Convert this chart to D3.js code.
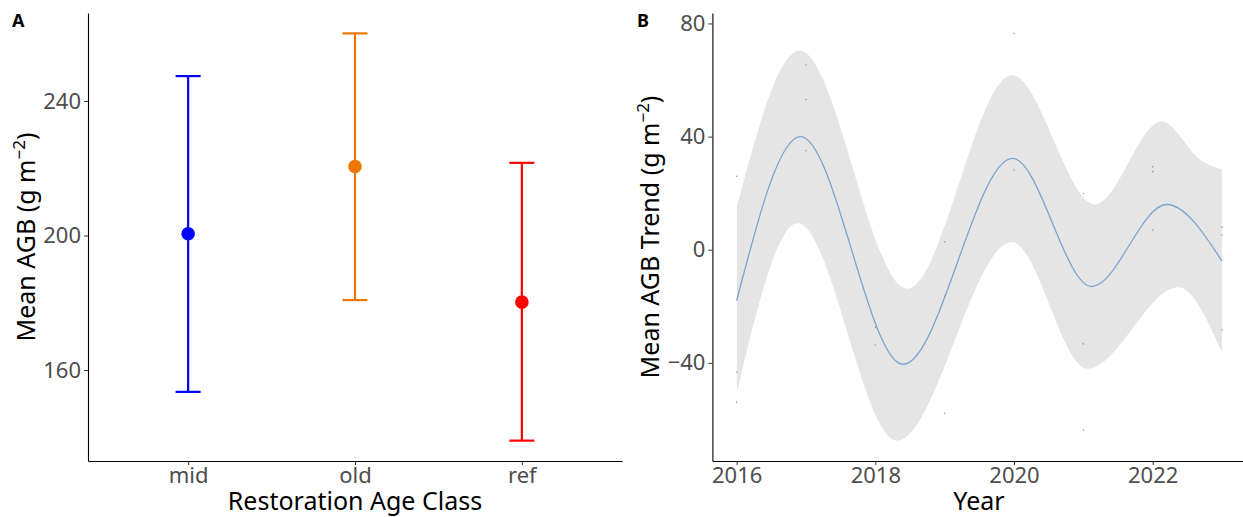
<!DOCTYPE html>
<html>
<head>
<meta charset="utf-8">
<script src="https://cdn.jsdelivr.net/npm/d3@7"></script>
<style>
  html, body { margin: 0; padding: 0; background: #fff; }
  svg { display: block; font-family: "Noto Sans", "Open Sans", sans-serif; }
  .tick text { fill: #4D4D4D; }
  .tick line { stroke: #333; }
</style>
</head>
<body>
<svg id="chart" width="1243" height="517"></svg>
<script>
// ---- Panel A: mean AGB by restoration age class ----
const ageClasses = ["mid", "old", "ref"];
const agbMean  = [200.5, 220.5, 180.2];
const agbLower = [153.5, 180.8, 139.0];
const agbUpper = [247.4, 260.1, 221.6];
const classColors = ["#0000FF", "#EE7600", "#FF0000"];
const agbTicks = [160, 200, 240];

// ---- Panel B: AGB trend through time ----
const obsYears  = [2016, 2016, 2016, 2017, 2017, 2017, 2018, 2018,
                   2019, 2019, 2019, 2020, 2020, 2021, 2021, 2021,
                   2022, 2022, 2022, 2023, 2023, 2023];
const obsTrend  = [26.0, -43.3, -53.9, 65.3, 53.1, 35.0, -27.4, -33.7,
                   2.8, -16.4, -57.8, 76.5, 28.2, 19.9, -33.3, -63.7,
                   29.3, 27.6, 7.0, 8.0, 5.2, -28.4];
// smoothed fit and its confidence band, read at turning points
const fitYears   = [2016, 2016.92, 2018.40, 2019.98, 2021.12, 2022.20, 2023];
const fitTrend   = [-18.0, 40.0, -40.5, 32.3, -13.0, 16.0, -4.0];
const upperYears = [2016, 2016.91, 2018.46, 2019.97, 2021.17, 2022.13, 2022.70, 2023];
const upperTrend = [15.0, 70.4, -13.8, 61.7, 16.0, 45.3, 31.5, 28.4];
const lowerYears = [2016, 2016.88, 2018.31, 2019.97, 2021.06, 2022.37, 2023];
const lowerTrend = [-50.6, 9.4, -67.5, 2.7, -42.1, -13.3, -36.3];
const yearTicks  = [2016, 2018, 2020, 2022];
const trendTicks = [-40, 0, 40, 80];

const svg = d3.select("#chart");
const tickFont = 22, titleFont = 25;

function expand(lo, hi, f) { const d = (hi - lo) * f; return [lo - d, hi + d]; }

function yTitle(g, x, yMid, label) {
  const t = g.append("text")
    .attr("transform", `translate(${x},${yMid}) rotate(-90)`)
    .attr("text-anchor", "middle")
    .attr("font-size", titleFont)
    .attr("fill", "#000");
  t.append("tspan").text(label + " (g m");
  t.append("tspan").text("\u22122").attr("font-size", titleFont * 0.68).attr("dy", -10);
  t.append("tspan").text(")").attr("dy", 10);
}

function styleAxis(sel) {
  sel.select(".domain").attr("stroke", "#000").attr("stroke-width", 1.1);
  sel.selectAll(".tick line").attr("stroke", "#333").attr("stroke-width", 1);
  sel.selectAll(".tick text").attr("font-size", tickFont).attr("font-family", "Noto Sans").attr("fill", "#4D4D4D");
}

// ================= Panel A =================
{
  const L = 88, R = 622, T = 13, B = 461;
  const x = d3.scalePoint().domain(ageClasses).range([L, R]).padding(0.6);
  const step = x.step();
  const yDom = expand(d3.min(agbLower), d3.max(agbUpper), 0.05);
  const y = d3.scaleLinear().domain(yDom).range([B, T]);
  const g = svg.append("g");

  const rows = ageClasses.map((c, i) => ({ c, m: agbMean[i], lo: agbLower[i], hi: agbUpper[i], col: classColors[i] }));
  const capHalf = step * 0.075;

  const eb = g.selectAll(".eb").data(rows).join("g");
  eb.append("line")
    .attr("x1", d => x(d.c)).attr("x2", d => x(d.c))
    .attr("y1", d => y(d.lo)).attr("y2", d => y(d.hi))
    .attr("stroke", d => d.col).attr("stroke-width", 2.2);
  eb.append("line")
    .attr("x1", d => x(d.c) - capHalf).attr("x2", d => x(d.c) + capHalf)
    .attr("y1", d => y(d.hi)).attr("y2", d => y(d.hi))
    .attr("stroke", d => d.col).attr("stroke-width", 2.2);
  eb.append("line")
    .attr("x1", d => x(d.c) - capHalf).attr("x2", d => x(d.c) + capHalf)
    .attr("y1", d => y(d.lo)).attr("y2", d => y(d.lo))
    .attr("stroke", d => d.col).attr("stroke-width", 2.2);
  eb.append("circle")
    .attr("cx", d => x(d.c)).attr("cy", d => y(d.m)).attr("r", 6.8)
    .attr("fill", d => d.col);

  const ax = g.append("g").attr("transform", `translate(0,${B})`)
    .call(d3.axisBottom(x).tickSize(4).tickPadding(2).tickSizeOuter(0));
  styleAxis(ax);
  const ay = g.append("g").attr("transform", `translate(${L},0)`)
    .call(d3.axisLeft(y).tickValues(agbTicks).tickSize(4).tickPadding(3).tickSizeOuter(0));
  styleAxis(ay);

  g.append("text").attr("x", (L + R) / 2).attr("y", 510)
    .attr("text-anchor", "middle").attr("font-size", titleFont).text("Restoration Age Class");
  yTitle(g, 35, (T + B) / 2, "Mean AGB");
  g.append("text").attr("x", 12).attr("y", 27).attr("font-size", 18)
    .attr("font-weight", "bold").text("A");
}

// ================= Panel B =================
{
  const L = 712.4, R = 1246.3, T = 13, B = 461;
  const x = d3.scaleLinear().domain(expand(d3.min(obsYears), d3.max(obsYears), 0.05)).range([L, R]);
  const allY = obsTrend.concat(lowerTrend, upperTrend, fitTrend);
  const y = d3.scaleLinear().domain(expand(d3.min(allY), d3.max(allY), 0.05)).range([B, T]);
  const g = svg.append("g");

  const upperPts = upperYears.map((yr, i) => [x(yr), y(upperTrend[i])]);
  const lowerPts = lowerYears.map((yr, i) => [x(yr), y(lowerTrend[i])]);
  const fitPts   = fitYears.map((yr, i) => [x(yr), y(fitTrend[i])]);
  const line = d3.line().curve(d3.curveMonotoneX);

  const x0 = x(2016), x1 = x(2023);
  // band = (region under the upper edge) ∩ (region above the lower edge)
  svg.append("defs").append("clipPath").attr("id", "aboveLower")
    .append("path")
    .attr("d", line(lowerPts) + `L${x1},${T - 20}L${x0},${T - 20}Z`);
  g.append("path")
    .attr("d", line(upperPts) + `L${x1},${B + 20}L${x0},${B + 20}Z`)
    .attr("clip-path", "url(#aboveLower)")
    .attr("fill", "#E5E5E5");

  g.selectAll(".obs").data(obsYears.map((yr, i) => [yr, obsTrend[i]])).join("circle")
    .attr("cx", d => x(d[0])).attr("cy", d => y(d[1])).attr("r", 0.8)
    .attr("fill", "#555").attr("opacity", 0.55);

  g.append("path").attr("d", line(fitPts))
    .attr("fill", "none").attr("stroke", "#7BA4CE").attr("stroke-width", 1.3);

  const ax = g.append("g").attr("transform", `translate(0,${B})`)
    .call(d3.axisBottom(x).tickValues(yearTicks).tickFormat(d3.format("d")).tickSize(4).tickPadding(2).tickSizeOuter(0));
  styleAxis(ax);
  const ay = g.append("g").attr("transform", `translate(${L},0)`)
    .call(d3.axisLeft(y).tickValues(trendTicks).tickFormat(d3.format("d")).tickSize(4).tickPadding(3).tickSizeOuter(0));
  styleAxis(ay);

  g.append("text").attr("x", 979).attr("y", 510)
    .attr("text-anchor", "middle").attr("font-size", titleFont).text("Year");
  yTitle(g, 659, (T + B) / 2, "Mean AGB Trend");
  g.append("text").attr("x", 637).attr("y", 27).attr("font-size", 18)
    .attr("font-weight", "bold").text("B");
}
</script>
</body>
</html>
